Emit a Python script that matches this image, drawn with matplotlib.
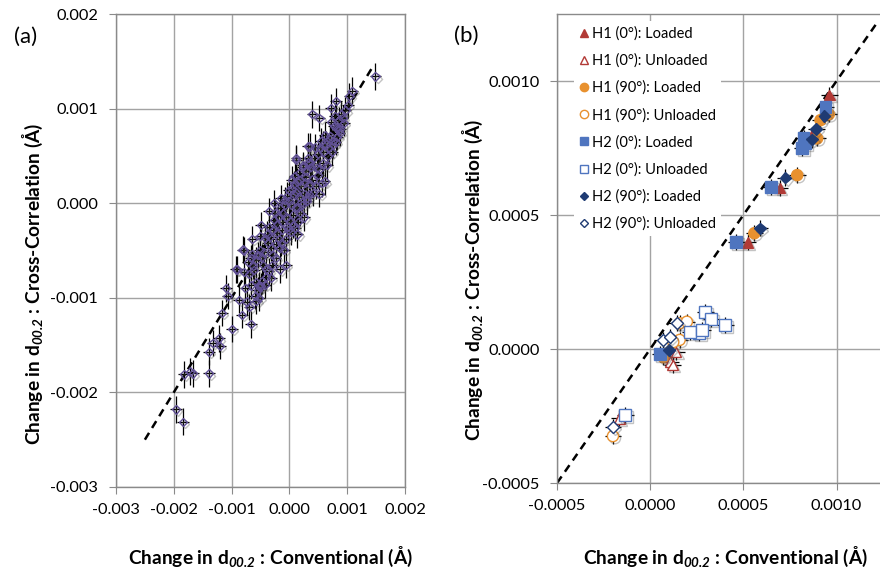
import numpy as np
import matplotlib
matplotlib.use("Agg")
import matplotlib.pyplot as plt
import matplotlib.ticker as ticker
import matplotlib.patheffects as pe

plt.rcParams['font.family'] = ['Lato', 'DejaVu Sans']
plt.rcParams['axes.unicode_minus'] = False
plt.rcParams['mathtext.fontset'] = 'custom'
plt.rcParams['mathtext.rm'] = 'Lato'
plt.rcParams['mathtext.bf'] = 'Lato:bold'
plt.rcParams['mathtext.it'] = 'Lato:italic'
try:
    plt.rcParams['mathtext.bfit'] = 'Lato:bold:italic'
    SUB = r'$_{\mathbfit{00.2}}$'
except KeyError:
    SUB = r'$_{\mathbf{00.2}}$'

# ---- panel (a): all measurements, values in 1e-3 Angstrom ----
a_x = [-1.84, -1.96, -1.82, -1.72, -1.67, -1.39, -1.39, -1.33, -1.22, -1.20,
       -0.99, -1.17, -0.66, -0.82, -0.87, -1.07, -0.57, -0.52, -0.42, 0.14,
       -0.06, -0.17, -0.32, -0.49, -0.90, -0.78, -0.64, -0.66, -1.10, -0.52,
       1.49, 1.09, 1.04, 0.40, 0.52, 0.81, 0.72, 1.01, 0.90, 0.95,
       0.81, 0.87, 0.75, 0.58, 0.35, 0.12, -0.81, -0.92, 0.32, 0.12,
       0.09, -0.26, -0.35, -0.49, 0.61, 0.52,
       -0.78, -0.74, -0.70, -0.67, -0.64, -0.61, -0.58, -0.55, -0.52, -0.50,
       -0.47, -0.45, -0.42, -0.40, -0.37, -0.35, -0.32, -0.30, -0.28, -0.25,
       -0.23, -0.21, -0.19, -0.17, -0.15, -0.13, -0.11, -0.09, -0.07, -0.05,
       -0.03, -0.01, 0.01, 0.03, 0.05, 0.07, 0.09, 0.11, 0.13, 0.15,
       0.17, 0.19, 0.21, 0.23, 0.25, 0.27, 0.29, 0.31, 0.33, 0.35,
       0.38, 0.41, 0.44, 0.47, 0.50, 0.53, 0.56, 0.59, 0.62, 0.65,
       0.68, 0.71, 0.74, 0.77, 0.80, 0.84, 0.88,
       -0.76, -0.72, -0.69, -0.63, -0.60, -0.57, -0.54, -0.51, -0.48, -0.44,
       -0.41, -0.38, -0.36, -0.33, -0.29, -0.27, -0.24, -0.22, -0.18, -0.16,
       -0.14, -0.12, -0.08, -0.06, -0.04, -0.02, 0.00, 0.02, 0.04, 0.06,
       0.08, 0.10, 0.12, 0.14, 0.16, 0.18, 0.20, 0.22, 0.24, 0.26,
       0.28, 0.30, 0.32, 0.34, 0.36, 0.40, 0.43, 0.46, 0.49, 0.52,
       0.55, 0.58, 0.63, 0.66, 0.70, 0.72, 0.76, 0.79, 0.83, 0.86,
       0.92, 0.97]
a_y = [-2.31, -2.18, -1.81, -1.78, -1.80, -1.80, -1.57, -1.48, -1.43, -1.51,
       -1.33, -1.16, -1.28, -1.18, -1.02, -0.98, -1.03, -0.88, -0.86, -0.33,
       -0.65, -0.70, -0.79, -0.88, -0.70, -0.50, -0.38, -0.58, -0.90, -1.00,
       1.34, 1.19, 1.13, 0.94, 0.90, 1.08, 1.01, 1.04, 0.94, 0.85,
       0.80, 0.74, 0.66, 0.62, 0.60, 0.46, -0.49, -0.70, 0.60, 0.48,
       0.29, 0.00, -0.08, -0.23, 0.23, 0.10,
       -0.73, -1.04, -0.75, -0.87, -0.54, -0.71, -0.83, -0.55, -0.87, -0.35,
       -0.57, -0.65, -0.37, -0.70, -0.42, -0.25, -0.47, -0.65, -0.28, -0.10,
       -0.43, -0.31, -0.14, -0.47, 0.05, -0.28, -0.11, -0.49, 0.03, -0.15,
       -0.28, 0.14, -0.19, -0.02, 0.25, -0.23, 0.09, -0.04, 0.23, -0.20,
       0.07, 0.24, 0.01, 0.38, -0.15, 0.22, 0.34, 0.06, 0.43, 0.20,
       0.38, 0.11, 0.59, 0.37, 0.30, 0.58, 0.21, 0.54, 0.72, 0.40,
       0.58, 0.71, 0.54, 0.82, 0.65, 0.79, 0.78,
       -0.90, -0.62, -1.10, -0.66, -0.98, -0.60, -0.92, -0.50, -0.82, -0.52,
       -0.78, -0.33, -0.72, -0.36, -0.55, -0.18, -0.58, -0.22, -0.38, -0.05,
       -0.42, -0.20, -0.02, -0.38, 0.08, -0.25, 0.02, -0.30, 0.15, -0.12,
       0.20, -0.26, 0.12, -0.05, 0.32, -0.10, 0.18, -0.02, 0.40, 0.10,
       0.28, 0.02, 0.48, 0.10, 0.42, 0.25, 0.48, 0.18, 0.52, 0.36,
       0.66, 0.42, 0.62, 0.50, 0.68, 0.86, 0.62, 0.92, 0.70, 0.88,
       0.90, 0.98]
A_XERR = 0.10
A_YERR = 0.14

# ---- panel (b): series, values in 1e-3 Angstrom ----
labels = ['H1 (0°): Loaded', 'H1 (0°): Unloaded', 'H1 (90°): Loaded',
          'H1 (90°): Unloaded', 'H2 (0°): Loaded', 'H2 (0°): Unloaded',
          'H2 (90°): Loaded', 'H2 (90°): Unloaded']
b_x = [
    [0.962, 0.870, 0.695, 0.523, 0.090],
    [0.107, 0.140, 0.120, -0.165],
    [0.959, 0.914, 0.896, 0.789, 0.559, 0.070],
    [0.158, 0.197, 0.158, 0.124, -0.200],
    [0.941, 0.823, 0.815, 0.830, 0.650, 0.462, 0.054],
    [0.296, 0.326, 0.403, 0.260, 0.215, 0.280, -0.134],
    [0.935, 0.892, 0.869, 0.726, 0.588, 0.099],
    [0.143, 0.068, 0.108, -0.200],
]
b_y = [
    [0.948, 0.800, 0.602, 0.398, -0.030],
    [-0.047, -0.010, -0.060, -0.259],
    [0.876, 0.854, 0.786, 0.649, 0.432, -0.030],
    [0.096, 0.102, 0.034, 0.026, -0.325],
    [0.904, 0.787, 0.749, 0.770, 0.605, 0.400, -0.019],
    [0.139, 0.111, 0.090, 0.059, 0.065, 0.070, -0.246],
    [0.869, 0.820, 0.782, 0.640, 0.450, -0.004],
    [0.096, 0.034, 0.046, -0.290],
]
B_XERR = 0.045
B_YERR = 0.03

RED = '#b23a36'
ORANGE = '#e8912f'
BLUE = '#4f75bf'
NAVY = '#1f3b73'
styles = [('^', RED, True, 7.5), ('^', RED, False, 7.5),
          ('o', ORANGE, True, 8), ('o', ORANGE, False, 8),
          ('s', BLUE, True, 8.5), ('s', BLUE, False, 8.5),
          ('D', NAVY, True, 6), ('D', NAVY, False, 6)]

GRID = '#a3a3a3'
SPINE = '#8a8a8a'
TICK_FS = 11.8
LABEL_FS = 13.8
shadow = [pe.SimpleLineShadow(offset=(1.5, -1.5), shadow_color='#555555', alpha=0.35), pe.Normal()]


def style_axes(ax, ypad):
    ax.grid(True, color=GRID, linewidth=1.0)
    ax.set_axisbelow(True)
    for sp in ax.spines.values():
        sp.set_color(SPINE)
        sp.set_linewidth(1.0)
    ax.tick_params(direction='out', length=5, color=SPINE, labelsize=TICK_FS)
    ax.tick_params(axis='y', pad=ypad)
    ax.tick_params(axis='x', pad=6.5)


fig = plt.figure(figsize=(8.8, 5.74), dpi=100)

# panel (a)
ax1 = fig.add_axes([0.1318, 0.1516, 0.3284, 0.824])
ax1.plot([-2.5e-3, 1.45e-3], [-2.5e-3, 1.45e-3], color='black', lw=1.8,
         linestyle=(0, (3.2, 2.3)), zorder=2)
ax_x = np.array(a_x) * 1e-3
ax_y = np.array(a_y) * 1e-3
ax1.errorbar(ax_x, ax_y, xerr=A_XERR * 1e-3, yerr=A_YERR * 1e-3, fmt='none',
             ecolor='black', elinewidth=0.9, capsize=0, zorder=3)
ax1.plot(ax_x, ax_y, linestyle='none', marker='D', markersize=4.2,
         markerfacecolor='none', markeredgecolor='#5f4f94', markeredgewidth=1.0,
         zorder=4, path_effects=shadow)
ax1.set_xlim(-0.003, 0.002)
ax1.set_ylim(-0.003, 0.002)
ax1.xaxis.set_major_locator(ticker.MultipleLocator(0.001))
ax1.yaxis.set_major_locator(ticker.MultipleLocator(0.001))
ax1.xaxis.set_major_formatter(ticker.FormatStrFormatter('%.3f'))
ax1.yaxis.set_major_formatter(ticker.FormatStrFormatter('%.3f'))
style_axes(ax1, 8)
ax1.set_xlabel('Change in d' + SUB + ' : Conventional (Å)', fontsize=LABEL_FS, fontweight='bold')
ax1.set_ylabel('Change in d' + SUB + ' : Cross-Correlation (Å)', fontsize=LABEL_FS, fontweight='bold')
ax1.xaxis.set_label_coords(0.536, -0.122)
ax1.yaxis.set_label_coords(-0.245, 0.430)

# panel (b)
ax2 = fig.add_axes([0.633, 0.1585, 0.3705, 0.817])
ax2.plot([-0.5e-3, 1.22e-3], [-0.5e-3, 1.22e-3], color='black', lw=1.8,
         linestyle=(0, (3.2, 2.3)), zorder=2)
for lab, xs, ys, (mk, col, filled, ms) in zip(labels, b_x, b_y, styles):
    xs = np.array(xs) * 1e-3
    ys = np.array(ys) * 1e-3
    ax2.errorbar(xs, ys, xerr=B_XERR * 1e-3, yerr=B_YERR * 1e-3, fmt='none',
                 ecolor='black', elinewidth=0.9, capsize=0, zorder=3)
    ax2.plot(xs, ys, linestyle='none', marker=mk, markersize=ms,
             markerfacecolor=col if filled else 'white', markeredgecolor=col,
             markeredgewidth=1.0, zorder=4, label=lab, path_effects=shadow)
ax2.set_xlim(-0.0005, 0.00125)
ax2.set_ylim(-0.0005, 0.00125)
ax2.xaxis.set_major_locator(ticker.FixedLocator([-0.0005, 0.0, 0.0005, 0.0010]))
ax2.yaxis.set_major_locator(ticker.FixedLocator([-0.0005, 0.0, 0.0005, 0.0010]))
ax2.xaxis.set_major_formatter(ticker.FormatStrFormatter('%.4f'))
ax2.yaxis.set_major_formatter(ticker.FormatStrFormatter('%.4f'))
style_axes(ax2, 7.5)
ax2.set_xlabel('Change in d' + SUB + ' : Conventional (Å)', fontsize=LABEL_FS, fontweight='bold')
ax2.set_ylabel('Change in d' + SUB + ' : Cross-Correlation (Å)', fontsize=LABEL_FS, fontweight='bold')
ax2.xaxis.set_label_coords(0.515, -0.132)
ax2.yaxis.set_label_coords(-0.222, 0.432)

leg = ax2.legend(loc='upper left', bbox_to_anchor=(0.03, 1.0), fontsize=10.5,
                 markerscale=0.75, handlelength=0.6, handletextpad=0.3,
                 labelspacing=0.88, borderpad=0.35, frameon=True, fancybox=False,
                 framealpha=1.0, facecolor='white', edgecolor='none')
for h in leg.legend_handles:
    h.set_path_effects([])

fig.text(26 / 880, 1 - 37 / 574, '(a)', fontsize=16, ha='center', va='center')
fig.text(466 / 880, 1 - 36 / 574, '(b)', fontsize=16, ha='center', va='center')

fig.savefig('out.png', dpi=100)
